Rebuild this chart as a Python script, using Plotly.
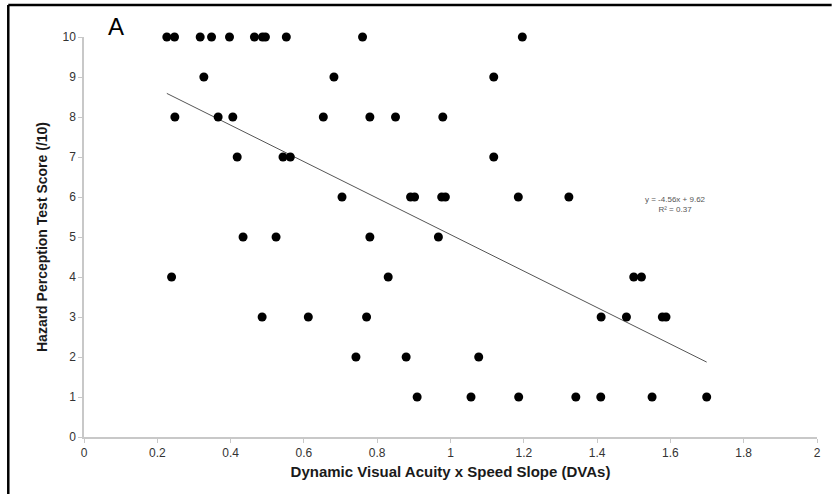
import plotly.graph_objects as go
import numpy as np

# Data
dva_slope = [
    0.226, 0.247, 0.317, 0.348, 0.397, 0.465, 0.487, 0.495, 0.552, 0.760, 1.196,   # score 10
    0.327, 0.682, 1.118,                                                            # score 9
    0.248, 0.366, 0.406, 0.653, 0.780, 0.850, 0.979,                                # score 8
    0.418, 0.543, 0.563, 1.118,                                                     # score 7
    0.704, 0.891, 0.902, 0.976, 0.986, 1.185, 1.323,                                # score 6
    0.434, 0.524, 0.780, 0.967,                                                     # score 5
    0.239, 0.830, 1.500, 1.521,                                                     # score 4
    0.486, 0.612, 0.771, 1.411, 1.480, 1.578, 1.588,                                # score 3
    0.742, 0.879, 1.077,                                                            # score 2
    0.909, 1.056, 1.186, 1.342, 1.410, 1.550, 1.699,                                # score 1
]
hazard_score = (
    [10] * 11 + [9] * 3 + [8] * 7 + [7] * 4 + [6] * 7 + [5] * 4 + [4] * 4 + [3] * 7 + [2] * 3 + [1] * 7
)

trend_slope = -4.56
trend_intercept = 9.62
r_squared = 0.37

x_ticks = [0, 0.2, 0.4, 0.6, 0.8, 1, 1.2, 1.4, 1.6, 1.8, 2]
x_tick_labels = ["0", "0.2", "0.4", "0.6", "0.8", "1", "1.2", "1.4", "1.6", "1.8", "2"]
y_ticks = list(range(0, 11))

x_title = "Dynamic Visual Acuity x Speed Slope (DVAs)"
y_title = "Hazard Perception Test Score (/10)"
panel_label = "A"

trend_x = np.array([min(dva_slope), max(dva_slope)])
trend_y = trend_slope * trend_x + trend_intercept

fig = go.Figure()
fig.add_trace(go.Scatter(
    x=trend_x, y=trend_y, mode="lines",
    line=dict(color="#555555", width=1),
    hoverinfo="skip", showlegend=False,
))
fig.add_trace(go.Scatter(
    x=dva_slope, y=hazard_score, mode="markers",
    marker=dict(color="black", size=9, line=dict(width=0)),
    cliponaxis=False, showlegend=False,
))

fig.update_layout(
    width=833, height=494,
    margin=dict(l=84, r=13, t=37, b=57),
    paper_bgcolor="white", plot_bgcolor="white",
    font=dict(family="Liberation Sans, Arial, sans-serif", color="#333333", size=12),
    xaxis=dict(
        range=[0, 2], tickvals=x_ticks, ticktext=x_tick_labels,
        showgrid=False, zeroline=False,
        showline=True, linecolor="#c8c8c8", linewidth=1.5,
        ticks="outside", ticklen=4, tickcolor="#c8c8c8",
        tickfont=dict(size=12, color="#333333"),
        title=dict(text="<b>" + x_title + "</b>", standoff=7,
                   font=dict(family="Liberation Sans, Arial", size=15, color="#1a1a1a")),
    ),
    yaxis=dict(
        range=[0, 10], tickvals=y_ticks,
        showgrid=False, zeroline=False,
        showline=True, linecolor="#c8c8c8", linewidth=1.5,
        ticks="outside", ticklen=4, tickcolor="#c8c8c8",
        tickfont=dict(size=12, color="#333333"),
        title=dict(text="<b>" + y_title + "</b>", standoff=12,
                   font=dict(family="Liberation Sans, Arial", size=14, color="#1a1a1a")),
    ),
    shapes=[
        dict(type="line", xref="paper", yref="paper", x0=-0.1033, x1=1.02, y0=1.0798, y1=1.0798,
             line=dict(color="black", width=2.5)),
        dict(type="line", xref="paper", yref="paper", x0=-0.1033, x1=-0.1033, y0=1.0798, y1=-0.15,
             line=dict(color="black", width=2.5)),
    ],
    annotations=[
        dict(text=panel_label, xref="paper", yref="paper", x=(116 - 84) / 736, y=(437 - 25) / 401,
             showarrow=False, font=dict(size=24, color="black", family="Liberation Sans, Arial"),
             xanchor="center", yanchor="middle"),
        dict(text="y = %.2fx + %.2f<br>R\u00b2 = %.2f" % (trend_slope, trend_intercept, r_squared),
             xref="paper", yref="paper", x=(678 - 84) / 736, y=(437 - 204) / 401,
             showarrow=False, font=dict(size=8, color="#555555", family="Liberation Sans, Arial"),
             xanchor="center", yanchor="middle", align="center"),
    ],
)

fig.write_html("out.html")
